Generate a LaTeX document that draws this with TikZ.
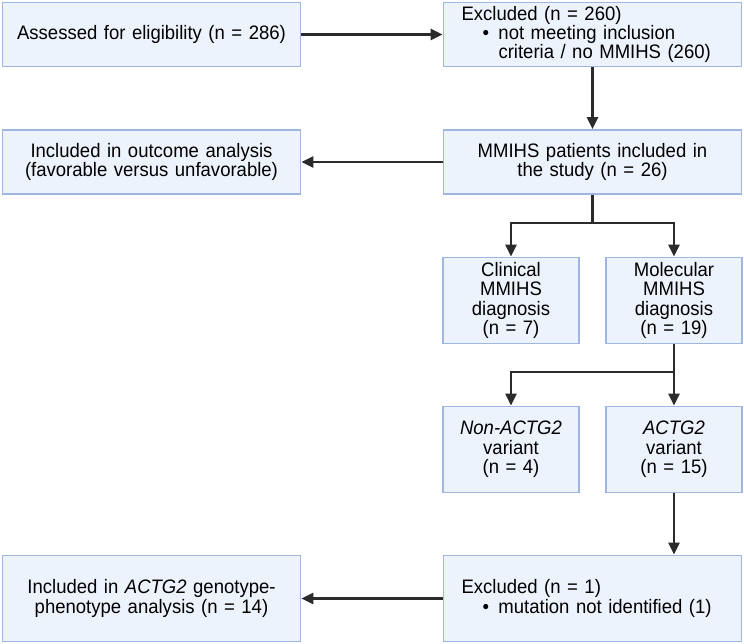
\documentclass[tikz,border=0pt]{standalone}
\usepackage{fontspec}
\setmainfont{Liberation Sans}[FakeStretch=0.95]
\usetikzlibrary{arrows.meta}
\definecolor{boxfill}{HTML}{EDF3FC}
\definecolor{boxline}{HTML}{9FB6E0}
\definecolor{arrowcol}{HTML}{2B2B2B}
\begin{document}
\begin{tikzpicture}[x=1pt,y=-1pt,
  box/.style={draw=boxline, fill=boxfill, line width=1.8pt, inner xsep=0pt, inner ysep=0pt,
    font=\fontsize{19.5}{19.4}\selectfont},
  widebox/.style={box, minimum width=298pt, minimum height=64pt},
  widetall/.style={box, minimum width=298pt, minimum height=86pt},
  ctext/.style={text width=290pt, align=center},
  ltext/.style={text width=262pt, align=left},
  smallbox/.style={box, minimum width=136pt, minimum height=86pt, text width=130pt, align=center},
  arr/.style={draw=arrowcol, line width=2.8pt, -{Triangle[length=12pt,width=11pt]}},
  ln/.style={draw=arrowcol, line width=2.8pt}]
\useasboundingbox (0,0) rectangle (744,644);

\node[widebox, ctext] (A) at (151.5,34.5) {Assessed for eligibility (n = 286)};
\node[widebox, ltext] (B) at (592.5,34.5) {Excluded (n = 260)\\
  \hspace*{21pt}\makebox[16pt][l]{\textbullet}not meeting inclusion\\
  \hspace*{37pt}criteria / no MMIHS (260)};
\node[widebox, ctext] (C) at (592.5,162) {MMIHS patients included in\\the study (n = 26)};
\node[widebox, ctext] (D) at (151.5,162) {Included in outcome analysis\\(favorable versus unfavorable)};
\node[smallbox] (E) at (511,300.5) {Clinical\\MMIHS\\diagnosis\\(n = 7)};
\node[smallbox] (F) at (674,300.5) {Molecular\\MMIHS\\diagnosis\\(n = 19)};
\node[smallbox] (G) at (511,449.5) {\textit{Non-ACTG2}\\variant\\(n = 4)};
\node[smallbox] (H) at (674,449.5) {\textit{ACTG2}\\variant\\(n = 15)};
\node[widetall, ltext] (I) at (592.5,598.5) {Excluded (n = 1)\\
  \hspace*{21pt}\makebox[16pt][l]{\textbullet}mutation not identified (1)};
\node[widetall, ctext] (J) at (151.5,598.5) {Included in \textit{ACTG2} genotype-\\phenotype analysis (n = 14)};

\coordinate (f1) at (592.5,223);
\coordinate (f2) at (674,372);

\draw[arr] (A) -- (B);
\draw[arr] (B) -- (C);
\draw[arr] (C) -- (D);
\draw[ln] (C.south) -- (f1);
\draw[arr] (f1) -| (E.north);
\draw[arr] (f1) -| (F.north);
\draw[arr] (F.south) -- (H.north);
\draw[arr] (f2) -| (G.north);
\draw[arr] (H.south) -- (H.south |- I.north);
\draw[arr] (I) -- (J);
\end{tikzpicture}
\end{document}
